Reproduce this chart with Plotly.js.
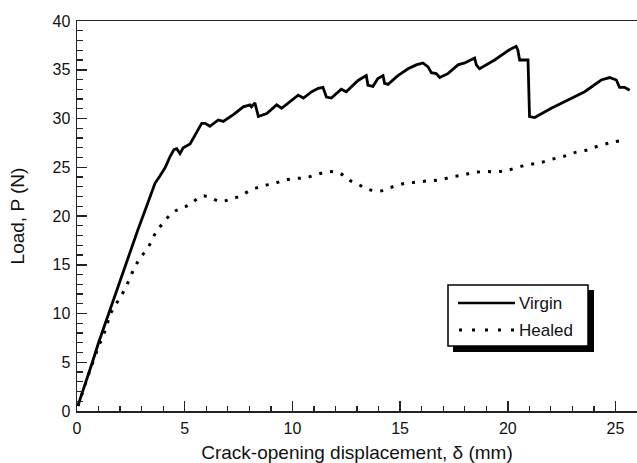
<!DOCTYPE html>
<html>
<head>
<meta charset="utf-8">
<script src="https://cdn.plot.ly/plotly-3.0.1.min.js"></script>
<style>html,body{margin:0;padding:0;background:#fff;}#chart{width:637px;height:463px;}</style>
</head>
<body>
<div id="chart"></div>
<script>
// ---- data ----
const virginX = [0.05,0.3,0.7,1.0,1.5,2.0,2.5,2.83,3.3,3.62,3.85,4.1,4.32,4.5,4.63,4.78,4.93,5.25,5.56,5.79,5.95,6.17,6.56,6.79,7.26,7.72,8.03,8.1,8.26,8.42,8.81,9.27,9.5,9.89,10.27,10.51,10.9,11.2,11.42,11.58,11.81,12.27,12.5,13.05,13.43,13.51,13.74,13.97,14.21,14.28,14.44,14.9,15.37,15.75,16.06,16.3,16.45,16.68,16.84,17.22,17.69,18.0,18.46,18.54,18.69,19.39,20.08,20.39,20.47,20.55,20.94,21.01,21.25,22.02,23.57,24.34,24.73,25.04,25.19,25.42,25.66];
const virginY = [0.6,2.2,4.9,7.0,10.2,13.4,16.6,18.6,21.4,23.35,24.1,25.0,26.1,26.8,26.9,26.4,27.0,27.4,28.6,29.5,29.5,29.2,29.85,29.7,30.4,31.2,31.4,31.2,31.6,30.2,30.5,31.4,31.05,31.7,32.4,32.1,32.75,33.1,33.2,32.2,32.1,33.0,32.75,33.9,34.4,33.4,33.3,34.1,34.4,33.6,33.5,34.4,35.1,35.5,35.7,35.3,34.7,34.6,34.2,34.6,35.5,35.7,36.2,35.5,35.1,36.0,37.05,37.4,37.0,36.0,36.0,30.2,30.1,31.05,32.75,33.95,34.2,33.95,33.2,33.2,32.9];
const healedX = [0.05,0.5,1.0,1.35,1.53,1.84,2.15,2.43,2.69,2.96,3.31,3.62,3.93,4.47,4.86,5.25,5.79,6.17,6.64,7.1,7.57,8.11,8.65,9.19,9.66,10.2,10.66,11.2,11.73,12.2,12.58,13.05,13.51,14.05,14.52,15.13,15.67,16.3,16.84,17.38,17.92,18.38,18.93,19.55,20.0,20.55,21.09,21.55,22.1,22.64,23.1,23.64,24.1,24.73,25.19];
const healedY = [0.5,3.5,6.6,8.5,9.85,11.05,12.2,13.5,14.8,15.75,16.8,18.15,19.1,20.4,20.8,21.2,22.05,21.9,21.5,21.7,22.05,22.7,23.1,23.35,23.7,23.85,23.95,24.3,24.55,24.4,23.75,23.25,22.75,22.55,22.9,23.3,23.45,23.6,23.7,24.0,24.2,24.45,24.55,24.55,24.7,25.05,25.3,25.5,25.85,26.15,26.5,26.75,27.1,27.5,27.7];
const seriesNames = ["Virgin", "Healed"];
const xTickVals = [0,5,10,15,20,25];
const yTickVals = [0,5,10,15,20,25,30,35,40];

// ---- layout helpers (pixel -> paper) ----
const W = 637, H = 463, ML = 77, MR = 0, MT = 21, MB = 52;
const PW = W - ML - MR, PH = H - MT - MB;
const px = v => (v - ML) / PW;
const py = v => (H - MB - v) / PH;
const FONT = "Liberation Sans, Arial, Helvetica, sans-serif";

const traces = [
  {x: virginX, y: virginY, name: seriesNames[0], type: "scatter", mode: "lines",
   line: {color: "#000", width: 2.8}, showlegend: false},
  {x: healedX, y: healedY, name: seriesNames[1], type: "scatter", mode: "lines",
   line: {color: "#000", width: 3, dash: "3px,8px", shape: "spline"}, showlegend: false}
];

const axisCommon = {
  showgrid: false, zeroline: false, showline: true, linecolor: "#222", linewidth: 1.5,
  ticks: "inside", ticklen: 10, tickwidth: 1.5, tickcolor: "#222",
  tickfont: {family: FONT, size: 16, color: "#111"},
  minor: {ticks: "inside", ticklen: 5.5, tickwidth: 1.3, tickcolor: "#222", dtick: 1, showgrid: false}
};

const layout = {
  width: W, height: H,
  margin: {l: ML, r: MR, t: MT, b: MB, pad: 0},
  paper_bgcolor: "#fff", plot_bgcolor: "#fff",
  font: {family: FONT, color: "#111"},
  xaxis: Object.assign({}, axisCommon, {
    range: [0, 26], tickvals: xTickVals, mirror: true, ticklabelstandoff: 2,
    title: {text: "Crack-opening displacement, δ (mm)", font: {family: FONT, size: 19, color: "#111"}, standoff: 13}
  }),
  yaxis: Object.assign({}, axisCommon, {
    range: [0, 40], tickvals: yTickVals, ticklabelstandoff: 2,
    title: {text: "Load, P (N)", font: {family: FONT, size: 19, color: "#111"}, standoff: 23}
  }),
  shapes: [
    {type: "rect", xref: "paper", yref: "paper", x0: px(453), x1: px(594), y0: py(290), y1: py(352),
     fillcolor: "#000", line: {width: 0}, layer: "above"},
    {type: "rect", xref: "paper", yref: "paper", x0: px(448), x1: px(588), y0: py(285), y1: py(346),
     fillcolor: "#fff", line: {color: "#000", width: 1.5}, layer: "above"},
    {type: "line", xref: "paper", yref: "paper", x0: px(458), x1: px(515), y0: py(303), y1: py(303),
     line: {color: "#000", width: 2.5}, layer: "above"},
    {type: "line", xref: "paper", yref: "paper", x0: px(459), x1: px(515), y0: py(330), y1: py(330),
     line: {color: "#000", width: 3, dash: "3px,10px"}, layer: "above"}
  ],
  annotations: [
    {xref: "paper", yref: "paper", x: px(517), y: py(303), xanchor: "left", yanchor: "middle",
     text: seriesNames[0], showarrow: false, font: {family: FONT, size: 17, color: "#111"}},
    {xref: "paper", yref: "paper", x: px(517), y: py(330), xanchor: "left", yanchor: "middle",
     text: seriesNames[1], showarrow: false, font: {family: FONT, size: 17, color: "#111"}}
  ]
};

Plotly.newPlot("chart", traces, layout, {displayModeBar: false, staticPlot: true});
</script>
</body>
</html>
